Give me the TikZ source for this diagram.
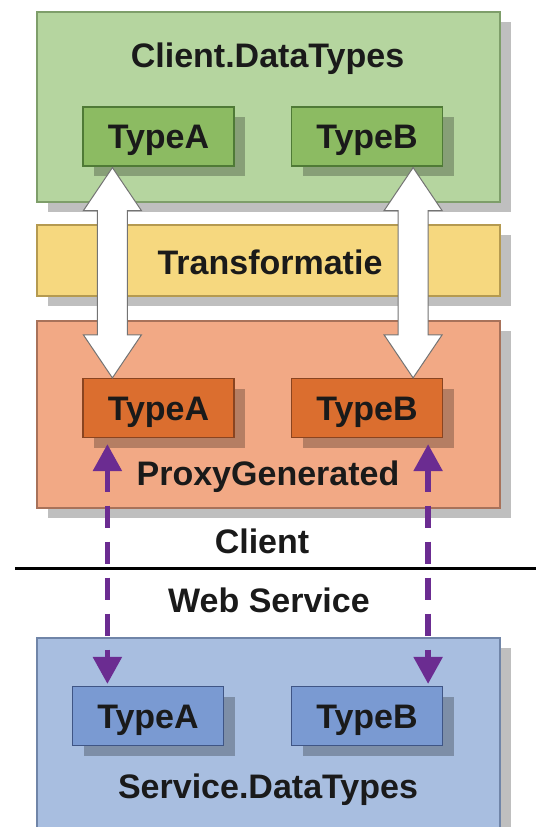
\documentclass[tikz,border=0pt]{standalone}
\usepackage{fontspec}
\setmainfont{Liberation Sans}
\usetikzlibrary{arrows.meta,calc,shadows}
\definecolor{gOut}{HTML}{B5D59F}
\definecolor{gOutB}{HTML}{7E9E6A}
\definecolor{gIn}{HTML}{8CBB62}
\definecolor{gInB}{HTML}{4F7A36}
\definecolor{yOut}{HTML}{F6D87F}
\definecolor{yOutB}{HTML}{B59A50}
\definecolor{oOut}{HTML}{F2A985}
\definecolor{oOutB}{HTML}{A8725A}
\definecolor{oIn}{HTML}{DB6E2F}
\definecolor{oInB}{HTML}{8A4420}
\definecolor{bOut}{HTML}{A8BEE0}
\definecolor{bOutB}{HTML}{7085A8}
\definecolor{bIn}{HTML}{7A9AD2}
\definecolor{bInB}{HTML}{3F5585}
\definecolor{purp}{HTML}{6B2C91}
\definecolor{txt}{HTML}{1A1A1A}
\tikzset{
  shad/.style={drop shadow={shadow xshift=11pt,shadow yshift=-10pt,fill=black,opacity=0.25}},
  outerbox/.style={rectangle,draw,line width=1.2pt,minimum width=463pt,shad,inner sep=0pt},
  innerbox/.style={rectangle,draw,line width=1.2pt,minimum width=151pt,minimum height=59pt,shad,
    inner sep=0pt,text height=25pt,text depth=1pt,font=\fontsize{34}{39}\selectfont\bfseries,text=txt},
  lbl/.style={anchor=base,inner sep=0pt,font=\fontsize{34}{39}\selectfont\bfseries,text=txt},
  wharrow/.style={fill=white,draw=black!55,line width=1pt,line join=miter},
  purparrow/.style={draw=purp,line width=5.5pt,dash pattern=on 22pt off 14pt,
    {Triangle[width=28pt,length=27pt]}-{Triangle[width=28pt,length=27pt]}},
}
\begin{document}
\begin{tikzpicture}[x=1pt,y=-1pt]
\useasboundingbox (0,0) rectangle (536,827);
\clip (0,0) rectangle (536,827);
% outer boxes
\node[outerbox,fill=gOut,draw=gOutB,minimum height=190pt] (green) at (268.5,107) {};
\node[outerbox,fill=yOut,draw=yOutB,minimum height=71pt] (yellow) at (268.5,260.5) {};
\node[outerbox,fill=oOut,draw=oOutB,minimum height=187pt] (orange) at (268.5,414.5) {};
\node[outerbox,fill=bOut,draw=bOutB,minimum height=202pt] (blue) at (268.5,739) {};
% inner boxes
\node[innerbox,fill=gIn,draw=gInB] (gA) at (158.5,136.5) {TypeA};
\node[innerbox,fill=gIn,draw=gInB] (gB) at (367,136.5) {TypeB};
\node[innerbox,fill=oIn,draw=oInB] (oA) at (158.5,408) {TypeA};
\node[innerbox,fill=oIn,draw=oInB] (oB) at (367,408) {TypeB};
\node[innerbox,fill=bIn,draw=bInB] (bA) at (148,716) {TypeA};
\node[innerbox,fill=bIn,draw=bInB] (bB) at (367,716) {TypeB};
% labels
\node[lbl] (lgreen) at (267.5,67) {Client.DataTypes};
\node[lbl] (lyellow) at (270,274) {Transformatie};
\node[lbl] (lorange) at (268,485) {ProxyGenerated};
\node[lbl] (lclient) at (262,553) {Client};
\node[lbl] (lws) at (269,612) {Web Service};
\node[lbl] (lblue) at (268,798) {Service.DataTypes};
% separator
\coordinate (sepL) at (15,568);
\coordinate (sepR) at (536,568);
\draw[line width=3pt] (sepL) -- (sepR);
% white double arrows
\coordinate (tA) at ($(gA.south west)+(30,1)$);
\coordinate (bAa) at ($(oA.north west)+(30,0)$);
\coordinate (tB) at ($(gB.south east)+(-30,1)$);
\coordinate (bBa) at ($(oB.north east)+(-30,0)$);
\foreach \t/\b in {tA/bAa,tB/bBa}{
  \draw[wharrow] let \p1=(\t), \p2=(\b) in
    (\p1) -- (\x1+29pt,\y1-43pt) -- (\x1+15pt,\y1-43pt) -- (\x1+15pt,\y2+43pt)
    -- (\x1+29pt,\y2+43pt) -- (\p2) -- (\x1-29pt,\y2+43pt) -- (\x1-15pt,\y2+43pt)
    -- (\x1-15pt,\y1-43pt) -- (\x1-29pt,\y1-43pt) -- cycle;
}
% purple dashed arrows
\coordinate (pA1) at ($(oA.south west)+(25,6)$);
\coordinate (pA2) at ($(pA1 |- bA.north)+(0,-2)$);
\coordinate (pB1) at ($(oB.south east)+(-15,6)$);
\coordinate (pB2) at ($(pB1 |- bB.north)+(0,-2)$);
\draw[purparrow] (pA1) -- (pA2);
\draw[purparrow] (pB1) -- (pB2);
\end{tikzpicture}
\end{document}
